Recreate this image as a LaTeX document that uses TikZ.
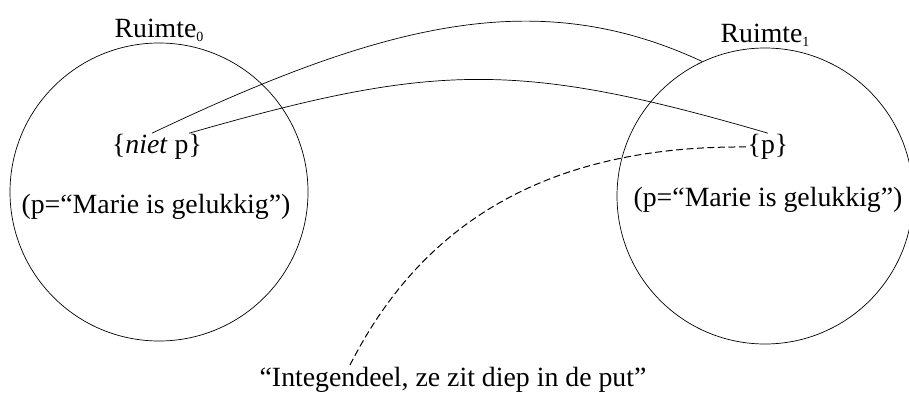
\documentclass[tikz,border=0pt]{standalone}
\usepackage{fontspec}
\setmainfont{Liberation Serif}
\usetikzlibrary{positioning}

\newcommand{\idx}[1]{\raisebox{-0.3ex}{\fontsize{14}{14}\selectfont #1}}

\begin{document}
\begin{tikzpicture}[
  x=1pt, y=1pt,
  space/.style={circle, draw, line width=0.7pt, minimum size=#1, inner sep=0pt},
  txt/.style={font=\fontsize{27.8}{33}\selectfont, inner sep=1pt},
  link/.style={line width=0.7pt},
  remark/.style={line width=1pt, dash pattern=on 7pt off 3.5pt}
]
\useasboundingbox (0,0) rectangle (909,397);

\node[space=298pt] (r0) at (159,205) {};
\node[space=296pt] (r1) at (765,201) {};
\node[txt, above=0pt of r0] (lab0) {Ruimte\idx{0}};
\node[txt, above=0pt of r1] (lab1) {Ruimte\idx{1}};

\node[txt] (niet) at (157,250) {\{\textit{niet} p\}};
\node[txt] (def0) at (156,190) {(p=“Marie is gelukkig”)};
\node[txt] (pset) at (768,250) {\{p\}};
\node[txt] (def1) at (768,197) {(p=“Marie is gelukkig”)};
\node[txt] (quote) at (453,17) {“Integendeel, ze zit diep in de put”};
\coordinate (qstart) at (350,32);

\draw[link] ([xshift=-5pt]niet.north) .. controls (390,377) and (540,411) .. (r1.115);
\draw[link] ([xshift=-14pt]niet.north east) .. controls (434,334) and (517,337) .. (pset.north);
\draw[remark] (qstart) .. controls (410,150) and (520,252) .. (pset.west);
\end{tikzpicture}
\end{document}
